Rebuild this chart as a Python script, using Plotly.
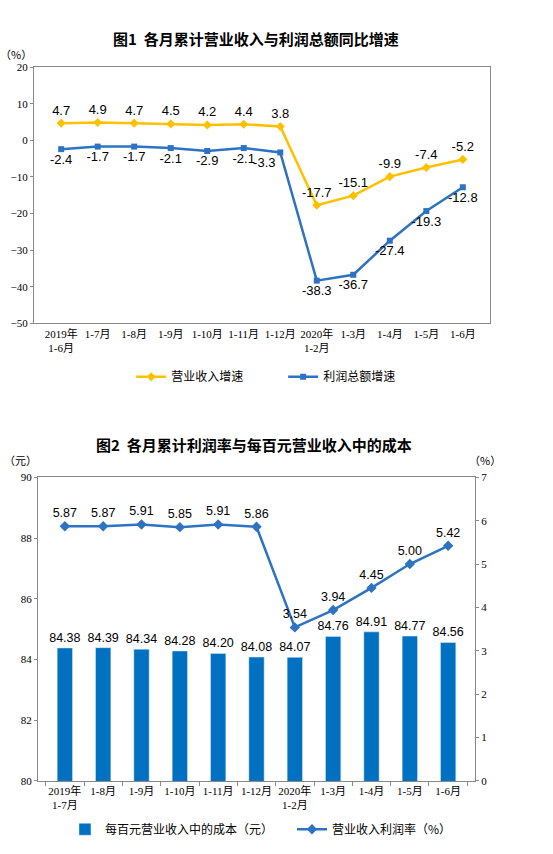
import plotly.graph_objects as go

# chart 1 data
months1 = ["2019年<br>1-6月", "1-7月", "1-8月", "1-9月", "1-10月", "1-11月", "1-12月",
           "2020年<br>1-2月", "1-3月", "1-4月", "1-5月", "1-6月"]
revenue_growth = [4.7, 4.9, 4.7, 4.5, 4.2, 4.4, 3.8, -17.7, -15.1, -9.9, -7.4, -5.2]
profit_growth = [-2.4, -1.7, -1.7, -2.1, -2.9, -2.1, -3.3, -38.3, -36.7, -27.4, -19.3, -12.8]

# chart 2 data
months2 = ["2019年<br>1-7月", "1-8月", "1-9月", "1-10月", "1-11月", "1-12月",
           "2020年<br>1-2月", "1-3月", "1-4月", "1-5月", "1-6月"]
cost_per_100 = [84.38, 84.39, 84.34, 84.28, 84.20, 84.08, 84.07, 84.76, 84.91, 84.77, 84.56]
profit_rate = [5.87, 5.87, 5.91, 5.85, 5.91, 5.86, 3.54, 3.94, 4.45, 5.00, 5.42]

W, H = 553, 854
ORANGE = "#FFC000"
BLUE = "#2E73C2"
BAR = "#0070C0"
AXIS = "#898989"
NUM = "Liberation Sans, Arial, sans-serif"
SERIF = "Liberation Serif, Times New Roman, serif"
CJK = "Noto Sans CJK SC, sans-serif"


def px_x(p):
    return p / W


def px_y(p):
    return 1 - p / H


fig = go.Figure()

# ---- chart 1 ----
blue_pos = ["bottom center"] * 6 + ["bottom left"] + ["bottom center"] * 5
fig.add_trace(go.Scatter(
    x=months1, y=revenue_growth, name="营业收入增速",
    mode="lines+markers+text", text=[f"{v:.1f}" for v in revenue_growth],
    textposition="top center", textfont=dict(family=NUM, size=13, color="black"),
    line=dict(color=ORANGE, width=2.5), marker=dict(symbol="diamond", size=7, color=ORANGE),
    xaxis="x", yaxis="y", legend="legend", cliponaxis=False))
fig.add_trace(go.Scatter(
    x=months1, y=profit_growth, name="利润总额增速",
    mode="lines+markers+text", text=[f"{v:.1f}" for v in profit_growth],
    textposition=blue_pos, textfont=dict(family=NUM, size=13, color="black"),
    line=dict(color=BLUE, width=2.5), marker=dict(symbol="square", size=6, color=BLUE),
    xaxis="x", yaxis="y", legend="legend", cliponaxis=False))

# ---- chart 2 ----
fig.add_trace(go.Bar(
    x=months2, y=cost_per_100, name="每百元营业收入中的成本（元）",
    text=[f"{v:.2f}" for v in cost_per_100], textposition="outside",
    constraintext="none",
    textfont=dict(family=NUM, size=12.5, color="black"),
    marker=dict(color=BAR), width=0.4,
    xaxis="x3", yaxis="y3", legend="legend2", cliponaxis=False))
fig.add_trace(go.Scatter(
    x=months2, y=profit_rate, name="营业收入利润率（%）",
    mode="lines+markers+text", text=[f"{v:.2f}" for v in profit_rate],
    textposition="top center", textfont=dict(family=NUM, size=12.5, color="black"),
    line=dict(color=BLUE, width=2.5), marker=dict(symbol="diamond", size=8, color=BLUE),
    xaxis="x3", yaxis="y4", legend="legend2", cliponaxis=False))

d1x = [px_x(34), px_x(490)]
d1y = [px_y(322), px_y(62)]
d2x = [px_x(38), px_x(475)]
d2y = [px_y(786), px_y(478)]

tickfont = dict(family=SERIF + ", " + CJK, size=11, color="black")

# position of the zero line inside chart 1
zero_pos = d1y[0] + (0 - (-50)) / 70 * (d1y[1] - d1y[0])

fig.update_layout(
    width=W, height=H, margin=dict(l=0, r=0, t=0, b=0),
    paper_bgcolor="white", plot_bgcolor="white", showlegend=True,
    xaxis=dict(domain=d1x, anchor="y", type="category", showline=True, mirror=True,
               linecolor=AXIS, linewidth=1, ticks="", tickfont=tickfont, showgrid=False,
               tickangle=0),
    xaxis2=dict(domain=d1x, anchor="free", position=zero_pos, overlaying="x",
                range=[-0.5, 11.5], tickvals=[i + 0.5 for i in range(11)],
                showticklabels=False, ticks="inside", ticklen=4, tickcolor=AXIS,
                showline=True, linecolor=AXIS, linewidth=1, showgrid=False, zeroline=False),
    yaxis=dict(domain=d1y, anchor="x", range=[-50, 20], dtick=10, showline=True, mirror=True,
               linecolor=AXIS, linewidth=1, ticks="outside", ticklen=3, tickcolor=AXIS,
               showgrid=False, zeroline=False, tickfont=tickfont),
    xaxis3=dict(domain=d2x, anchor="y3", type="category", showline=True, mirror=True,
                linecolor=AXIS, linewidth=1, ticks="outside", tickson="boundaries",
                ticklen=4, tickcolor=AXIS, tickfont=tickfont, showgrid=False,
                tickangle=0),
    yaxis3=dict(domain=d2y, anchor="x3", range=[80, 90], dtick=2, showline=True,
                linecolor=AXIS, linewidth=1, ticks="outside", ticklen=3, tickcolor=AXIS,
                showgrid=False, zeroline=False, tickfont=tickfont),
    yaxis4=dict(domain=d2y, anchor="x3", overlaying="y3", side="right", range=[0, 7], dtick=1,
                showline=True, linecolor=AXIS, linewidth=1, ticks="outside", ticklen=3,
                tickcolor=AXIS, showgrid=False, zeroline=False, tickfont=tickfont),
    legend=dict(orientation="h", x=0.512, xanchor="center", y=px_y(376), yanchor="middle",
                font=dict(family=CJK, size=12, color="black"), itemwidth=30,
                entrywidthmode="pixels", entrywidth=107),
    legend2=dict(orientation="h", x=0.528, xanchor="center", y=px_y(835), yanchor="middle",
                 font=dict(family=CJK, size=12, color="black"), itemwidth=30,
                 entrywidthmode="pixels", entrywidth=182),
)

annotations = [
    dict(text="图1  各月累计营业收入与利润总额同比增速", x=px_x(256), y=px_y(33), title=True),
    dict(text="（%）", x=px_x(16), y=px_y(49), size=11),
    dict(text="图2  各月累计利润率与每百元营业收入中的成本", x=px_x(254), y=px_y(445), title=True),
    dict(text="（元）", x=px_x(20), y=px_y(460), size=11),
    dict(text="（%）", x=px_x(485), y=px_y(460), size=11),
]
for a in annotations:
    fig.add_annotation(
        text=a["text"], x=a["x"], y=a["y"], xref="paper", yref="paper",
        xanchor="center", yanchor="middle", showarrow=False,
        font=dict(family=CJK, size=a.get("size", 15), color="black",
                  weight=600 if a.get("title") else 400))

# drop the default body margin so the figure sits at the top-left of the page
fig.write_html("out.html", config={"displayModeBar": False},
               post_script="document.body.style.margin='0';")
